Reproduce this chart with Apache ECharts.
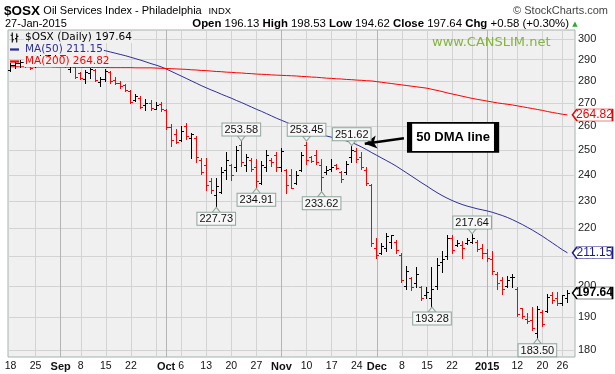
<!DOCTYPE html>
<html>
<head>
<meta charset="utf-8">
<script src="https://cdn.jsdelivr.net/npm/echarts@6.0.0/dist/echarts.min.js"></script>
<style>
html,body{margin:0;padding:0;background:#ffffff;}
#chart{width:615px;height:374px;}
</style>
</head>
<body>
<div id="chart"></div>
<script>
// ---------- DATA ----------
const dates = [
 '2014-08-18','2014-08-19','2014-08-20','2014-08-21','2014-08-22','2014-08-25','2014-08-26','2014-08-27','2014-08-28','2014-08-29',
 '2014-09-02','2014-09-03','2014-09-04','2014-09-05','2014-09-08','2014-09-09','2014-09-10','2014-09-11','2014-09-12','2014-09-15',
 '2014-09-16','2014-09-17','2014-09-18','2014-09-19','2014-09-22','2014-09-23','2014-09-24','2014-09-25','2014-09-26','2014-09-29',
 '2014-09-30','2014-10-01','2014-10-02','2014-10-03','2014-10-06','2014-10-07','2014-10-08','2014-10-09','2014-10-10','2014-10-13',
 '2014-10-14','2014-10-15','2014-10-16','2014-10-17','2014-10-20','2014-10-21','2014-10-22','2014-10-23','2014-10-24','2014-10-27',
 '2014-10-28','2014-10-29','2014-10-30','2014-10-31','2014-11-03','2014-11-04','2014-11-05','2014-11-06','2014-11-07','2014-11-10',
 '2014-11-11','2014-11-12','2014-11-13','2014-11-14','2014-11-17','2014-11-18','2014-11-19','2014-11-20','2014-11-21','2014-11-24',
 '2014-11-25','2014-11-26','2014-11-28','2014-12-01','2014-12-02','2014-12-03','2014-12-04','2014-12-05','2014-12-08','2014-12-09',
 '2014-12-10','2014-12-11','2014-12-12','2014-12-15','2014-12-16','2014-12-17','2014-12-18','2014-12-19','2014-12-22','2014-12-23',
 '2014-12-24','2014-12-26','2014-12-29','2014-12-30','2014-12-31','2015-01-02','2015-01-05','2015-01-06','2015-01-07','2015-01-08',
 '2015-01-09','2015-01-12','2015-01-13','2015-01-14','2015-01-15','2015-01-16','2015-01-20','2015-01-21','2015-01-22','2015-01-23',
 '2015-01-26','2015-01-27'
];
const opens = [
 285.0,287.5,288.5,289.0,287.5,287.0,291.0,293.0,292.0,293.5,
 295.0,292.0,285.5,286.5,283.5,281.0,283.5,285.0,279.5,281.0,
 284.0,280.5,279.0,278.0,275.5,271.5,272.5,269.0,270.0,267.5,
 269.5,267.0,259.5,256.5,254.0,260.0,255.0,255.0,246.0,244.0,
 237.5,232.0,233.5,242.0,244.0,243.0,252.0,244.0,246.0,243.0,
 237.0,243.0,246.0,248.0,243.0,242.0,240.0,237.0,242.0,252.0,
 247.0,248.0,244.0,241.0,242.5,244.0,241.0,241.0,247.0,249.5,
 247.0,242.0,236.0,213.0,211.0,213.0,215.0,215.0,210.5,200.0,
 202.5,201.0,199.5,197.0,196.0,200.0,208.0,210.0,216.5,214.0,
 214.0,214.5,215.0,215.0,213.0,211.0,209.0,204.0,202.0,200.0,
 203.0,199.0,193.0,189.5,189.0,185.0,191.5,192.0,197.0,196.0,
 194.5,196.13
];
const highs = [
 288.5,289.0,290.0,289.5,288.5,291.0,294.0,295.5,294.0,296.0,
 296.5,292.5,288.5,287.0,284.0,285.0,286.0,285.5,282.0,285.5,
 284.5,282.0,280.0,278.5,276.0,274.0,273.0,272.0,271.5,270.5,
 270.5,267.2,260.8,258.7,260.0,261.4,257.1,255.7,246.7,246.7,
 238.8,238.8,243.1,249.1,244.4,251.7,253.58,248.4,246.7,246.4,
 245.7,249.8,246.7,249.1,251.0,242.4,242.4,241.7,249.1,253.45,
 247.4,249.8,246.4,243.7,246.4,244.4,241.7,245.7,251.62,251.0,
 249.1,243.1,236.6,216.4,214.7,218.2,217.6,215.8,211.2,206.7,
 202.9,206.2,200.1,199.6,206.2,209.5,211.7,217.6,217.6,215.8,
 215.3,216.4,217.64,215.8,214.2,212.4,211.7,204.5,202.9,203.4,
 204.0,199.6,193.0,191.4,193.3,193.5,192.2,197.5,198.0,198.0,
 197.1,198.53
];
const lows = [
 284.5,286.0,286.5,286.5,285.5,286.5,290.0,291.5,290.0,292.0,
 291.0,286.5,284.0,281.5,281.0,279.0,281.5,280.0,277.5,280.0,
 279.0,278.5,277.0,275.5,270.0,271.0,268.0,267.0,267.0,267.5,
 266.5,258.7,251.7,253.0,253.7,254.5,246.7,245.1,240.4,234.0,
 233.0,227.73,232.8,238.5,237.9,241.7,243.7,241.7,241.7,234.91,
 236.5,241.7,243.7,241.7,241.7,233.0,234.7,236.6,241.6,244.4,
 245.1,244.4,233.62,240.4,241.7,242.4,237.3,240.4,245.1,245.1,
 242.4,236.0,213.4,209.5,210.7,211.8,213.0,211.2,201.2,199.1,
 198.6,199.6,195.3,195.9,193.28,199.1,204.5,208.9,211.0,213.6,
 209.5,214.2,214.7,211.7,209.5,208.4,204.0,199.1,197.5,199.6,
 199.6,190.5,189.8,188.3,186.0,183.5,187.1,191.7,194.5,193.9,
 193.9,194.62
];
const closes = [
 287.5,288.5,289.0,287.5,286.0,290.5,293.0,292.0,293.5,295.0,
 292.0,287.0,287.5,282.0,281.5,284.0,285.5,280.5,281.0,284.5,
 280.0,279.0,277.5,276.0,270.5,273.0,268.5,270.0,268.0,269.0,
 267.5,259.5,254.0,253.5,258.0,256.0,256.5,247.0,241.0,236.0,
 234.0,235.5,241.0,246.0,240.0,250.0,245.0,247.0,242.5,237.5,
 244.0,248.0,245.0,243.0,249.5,236.0,235.0,240.0,248.0,246.0,
 245.5,245.0,239.0,242.0,243.0,242.6,238.5,244.5,250.0,246.5,
 243.0,237.0,214.5,210.5,213.5,217.0,217.3,212.0,202.0,205.0,
 199.5,204.0,196.0,198.0,199.0,207.0,209.0,216.5,212.0,214.5,
 213.0,215.5,216.5,212.5,211.0,209.5,205.0,201.0,199.0,202.0,
 203.0,191.0,190.5,188.8,186.5,192.5,188.0,196.5,195.5,194.5,
 197.06,197.64
];
const ma50 = [
 null,null,null,null,null,null,null,null,null,null,
 null,null,null,null,null,296.6,296.0,295.4,294.8,294.2,
 293.6,293.0,292.4,291.8,291.1,290.4,289.7,288.9,288.1,287.4,
 286.6,285.6,284.5,283.4,282.3,281.2,280.1,279.0,277.9,276.9,
 275.9,275.0,274.0,273.1,272.2,271.2,270.3,269.3,268.3,267.3,
 266.4,265.4,264.4,263.4,262.5,261.6,260.7,259.8,259.0,258.2,
 257.5,256.8,256.5,255.8,255.3,254.8,254.3,253.7,253.1,252.2,
 251.2,250.1,248.9,247.8,246.7,245.6,244.5,243.3,242.0,240.7,
 239.4,238.1,236.8,235.6,234.3,233.1,232.0,231.0,230.1,229.3,
 228.6,228.0,227.5,227.0,226.6,226.2,225.7,225.1,224.5,223.8,
 223.0,222.1,221.2,220.2,219.2,218.1,217.0,215.8,214.6,213.4,
 212.2,211.15
];
const ma200 = [
 286.6,286.6,286.6,286.6,286.5,286.5,286.5,286.5,286.5,286.4,
 286.4,286.4,286.4,286.4,286.3,286.3,286.3,286.3,286.3,286.3,
 286.2,286.2,286.2,286.2,286.2,286.1,286.1,286.1,286.1,286.0,
 285.9,285.8,285.7,285.6,285.5,285.4,285.2,285.1,284.9,284.8,
 284.6,284.4,284.3,284.1,284.0,283.8,283.7,283.5,283.4,283.2,
 283.1,283.0,282.8,282.7,282.6,282.5,282.4,282.3,282.1,282.0,
 281.8,281.7,281.5,281.3,281.2,281.0,280.9,280.7,280.6,280.4,
 280.3,280.1,280.0,279.7,279.4,279.1,278.8,278.5,278.2,277.9,
 277.6,277.3,277.0,276.7,276.2,275.7,275.2,274.6,274.1,273.6,
 273.1,272.6,272.1,271.7,271.3,270.9,270.5,270.1,269.8,269.5,
 269.2,268.8,268.4,268.0,267.6,267.2,266.8,266.3,265.9,265.5,
 265.1,264.82
];
const yTicks = [180,190,200,210,220,230,240,250,260,270,280,290,300];
const xTickDates = ['2014-08-18','2014-08-25','2014-09-02','2014-09-08','2014-09-15','2014-09-22','2014-10-01','2014-10-06',
 '2014-10-13','2014-10-20','2014-10-27','2014-11-03','2014-11-10','2014-11-17','2014-11-24','2014-12-01','2014-12-08',
 '2014-12-15','2014-12-22','2015-01-02','2015-01-12','2015-01-20','2015-01-26'];
const xTickTexts = ['18','25','Sep','8','15','22','Oct','6','13','20','27','Nov','10','17','24','Dec','8','15','22','2015','12','20','26'];
const monthStartDates = ['2014-09-02','2014-10-01','2014-11-03','2014-12-01','2015-01-02'];
const weekGridDates = ['2014-08-25','2014-09-08','2014-09-15','2014-09-22','2014-09-29','2014-10-06','2014-10-13','2014-10-20',
 '2014-10-27','2014-11-10','2014-11-17','2014-11-24','2014-12-08','2014-12-15','2014-12-22','2014-12-29','2015-01-05',
 '2015-01-12','2015-01-20','2015-01-26'];
const peakDates = ['2014-10-15','2014-10-22','2014-10-27','2014-11-10','2014-11-13','2014-11-21','2014-12-16','2014-12-29','2015-01-16'];
const peakSides = ['low','high','low','high','low','high','low','high','low'];
const headerQuote = '{b|Open} 196.13 {b|High} 198.53 {b|Low} 194.62 {b|Close} 197.64 {b|Chg} +0.58 (+0.30%)';

// ---------- BUILD ----------
const F = '"Liberation Sans", Arial, sans-serif';
const FV = '"DejaVu Sans", Verdana, sans-serif';
const N = dates.length;
const last = N - 1;
const idx = d => dates.indexOf(d);
const ohlc = dates.map((d, i) => [i, opens[i], highs[i], lows[i], closes[i], (i > 0 && closes[i] < closes[i - 1]) ? 1 : 0]);
const ma50Data = []; ma50.forEach((v, i) => { if (v != null) ma50Data.push([i, v]); });
const ma200Data = ma200.map((v, i) => [i, v]);
const tickTextByIdx = {}; xTickDates.forEach((d, k) => { tickTextByIdx[idx(d)] = xTickTexts[k]; });
const monthSet = new Set(monthStartDates.map(idx));

const osxName = '$OSX (Daily) ' + closes[last].toFixed(2);
const ma50Name = 'MA(50) ' + ma50[last].toFixed(2);
const ma200Name = 'MA(200) ' + ma200[last].toFixed(2);

const BLUE = '#2e2e9a', RED = '#ff0000', PLOTBG = '#f0f0f0';

const peakPoints = peakDates.map((d, k) => {
  const i = idx(d);
  const hi = peakSides[k] === 'high';
  const v = hi ? highs[i] : lows[i];
  return {
    coord: [i, v], value: v,
    symbol: 'triangle', symbolSize: [8, 5], symbolRotate: hi ? 180 : 0, symbolOffset: [0, hi ? -3 : 3],
    itemStyle: {color: '#eef1ee', borderColor: '#8fa59b', borderWidth: 1},
    label: {show: true, position: hi ? 'top' : 'bottom', distance: 0, formatter: v.toFixed(2),
      backgroundColor: '#f6f7f6', borderColor: '#8fa59b', borderWidth: 1, padding: [1, 2, 0, 2],
      color: '#111', fontSize: 11, fontFamily: F, lineHeight: 11}
  };
});
function tag(v, color, bold) {
  return {
    coord: [last, v], value: v,
    symbol: 'path://M0,6L5,0H44V12H5Z', symbolSize: [40, 12], symbolOffset: [25, 0], symbolKeepAspect: false,
    itemStyle: {color: '#ffffff', borderColor: color, borderWidth: 1},
    label: {show: true, position: 'inside', offset: [2, 0], formatter: v.toFixed(2), color: color,
      fontSize: 12, fontWeight: bold ? 'bold' : 'normal', fontFamily: F}
  };
}

const option = {
  animation: false,
  backgroundColor: '#ffffff',
  grid: {left: 8, right: 40, top: 30, bottom: 17, show: true, backgroundColor: PLOTBG, borderColor: '#a3b4ac', borderWidth: 1},
  xAxis: [{
    type: 'value', min: -0.5, max: N + 0.5, position: 'bottom',
    axisLine: {show: false},
    axisTick: {show: false, customValues: weekGridDates.map(idx)},
    axisLabel: {customValues: xTickDates.map(idx), margin: 4, color: '#111', fontSize: 10.5, fontFamily: F,
      formatter: v => { const t = tickTextByIdx[Math.round(v)] || ''; return monthSet.has(Math.round(v)) ? '{b|' + t + '}' : t; },
      rich: {b: {fontWeight: 'bold', fontSize: 11, fontFamily: F, color: '#111'}}},
    splitLine: {show: true, lineStyle: {color: '#d3d3d3', width: 1}}
  }, {
    type: 'value', min: -0.5, max: N + 0.5, position: 'top',
    axisLine: {show: false},
    axisTick: {show: false, customValues: monthStartDates.map(idx)},
    axisLabel: {show: false},
    splitLine: {show: true, lineStyle: {color: '#b4b4b4', width: 1}}
  }],
  yAxis: {
    type: 'log', logBase: 10, min: 177.95, max: 304.45, position: 'right',
    axisLine: {show: false},
    axisTick: {show: false, customValues: yTicks},
    axisLabel: {customValues: yTicks, margin: 3, color: '#222', fontSize: 11, fontFamily: F,
      formatter: v => String(Math.round(v))},
    splitLine: {show: true, lineStyle: {color: '#d3d3d3', width: 1}}
  },
  legend: {
    left: 8, top: 31, orient: 'vertical', itemWidth: 9, itemHeight: 10, itemGap: 1,
    padding: [1, 3, 1, 2], selectedMode: false, z: 10,
    textStyle: {fontFamily: FV, fontSize: 10.5, backgroundColor: PLOTBG, lineHeight: 11, padding: [0, 1, 0, 1]},
    data: [
      {name: osxName, icon: 'path://M1,0h1v9h-1z M0,2h1v1h-1z M2,6h1v1h-1z M5,1h1v8h-1z M4,5h1v1h-1z M6,3h1v1h-1z',
        itemStyle: {color: '#000'}, textStyle: {color: '#000'}},
      {name: ma50Name, icon: 'path://M0,0H8V2H0Z', itemStyle: {color: BLUE}, textStyle: {color: BLUE}},
      {name: ma200Name, icon: 'path://M0,0H8V2H0Z', itemStyle: {color: RED}, textStyle: {color: RED}}
    ]
  },
  graphic: [
    {type: 'text', x: 4, y: 11, style: {text: '{t|$OSX} {n|Oil Services Index - Philadelphia}  {s|INDX}', verticalAlign: 'middle',
      rich: {t: {fontSize: 13.5, fontWeight: 'bold', fontFamily: F, fill: '#000'},
             n: {fontSize: 11, fontFamily: F, fill: '#000'},
             s: {fontSize: 9.5, fontFamily: F, fill: '#000'}}}},
    {type: 'text', x: 608, y: 11, style: {text: '\u00a9 StockCharts.com', align: 'right', verticalAlign: 'middle', fontSize: 11, fontFamily: F, fill: '#444'}},
    {type: 'text', x: 5, y: 24, style: {text: '27-Jan-2015', verticalAlign: 'middle', fontSize: 11, fontFamily: F, fill: '#000'}},
    {type: 'text', x: 569, y: 24, style: {text: headerQuote, align: 'right', verticalAlign: 'middle', fontSize: 11.4, fontFamily: F, fill: '#000',
      rich: {b: {fontWeight: 'bold', fontSize: 11.4, fontFamily: F, fill: '#000'}}}},
    {type: 'text', x: 575, y: 24, style: {text: '\u25b2', align: 'center', verticalAlign: 'middle', fontSize: 7, fontFamily: FV, fill: '#2eaa2e'}},
    {type: 'text', x: 432, y: 43, z: 5, style: {text: 'www.CANSLIM.net', verticalAlign: 'middle', fontSize: 13, fontFamily: FV, fill: '#84b440'}}
  ],
  series: [
    {
      name: osxName, type: 'custom', z: 3,
      dimensions: ['idx', 'open', 'high', 'low', 'close', 'down'],
      encode: {x: 'idx', y: ['open', 'high', 'low', 'close']},
      data: ohlc,
      renderItem: (params, api) => {
        const i = api.value(0);
        const pH = api.coord([i, api.value(2)]);
        const pL = api.coord([i, api.value(3)]);
        const pO = api.coord([i, api.value(1)]);
        const pC = api.coord([i, api.value(4)]);
        const n = Math.floor(pH[0]);
        const col = api.value(5) ? '#ff0000' : '#000000';
        const st = {stroke: col, lineWidth: 1, fill: null};
        const yo = Math.round(pO[1]) + 0.5, yc = Math.round(pC[1]) + 0.5;
        return {type: 'group', children: [
          {type: 'line', shape: {x1: n + 0.5, y1: Math.round(pH[1]), x2: n + 0.5, y2: Math.round(pL[1]) + 1}, style: st},
          {type: 'line', shape: {x1: n - 2, y1: yo, x2: n, y2: yo}, style: st},
          {type: 'line', shape: {x1: n + 1, y1: yc, x2: n + 3, y2: yc}, style: st}
        ]};
      }
    },
    {
      name: ma50Name, type: 'line', data: ma50Data, showSymbol: false, symbol: 'none', z: 2, clip: false,
      lineStyle: {color: BLUE, width: 1}, itemStyle: {color: BLUE},
      markLine: {silent: true, symbol: ['none', 'arrow'], symbolSize: [10, 12],
        lineStyle: {color: '#000', width: 2.5, type: 'solid'}, label: {show: false},
        data: [[{coord: [78.4, 254.9]}, {coord: [70.6, 252.6]}]]},
      markPoint: {silent: true, data: [
        {coord: [88.2, 255.2], symbol: 'rect', symbolSize: [87, 29],
          itemStyle: {color: '#ffffff', borderColor: '#000', borderWidth: 3},
          label: {show: true, position: 'inside', formatter: '50 DMA line', color: '#000', fontSize: 13, fontWeight: 'bold', fontFamily: F}},
        tag(ma50[last], '#1a1a8c', false)
      ]}
    },
    {
      name: ma200Name, type: 'line', data: ma200Data, showSymbol: false, symbol: 'none', z: 2, clip: false,
      lineStyle: {color: RED, width: 1}, itemStyle: {color: RED},
      markPoint: {silent: true, data: peakPoints.concat([tag(ma200[last], '#ee0000', false), tag(closes[last], '#000000', true)])}
    }
  ]
};
const chart = echarts.init(document.getElementById('chart'));
chart.setOption(option);
</script>
</body>
</html>
